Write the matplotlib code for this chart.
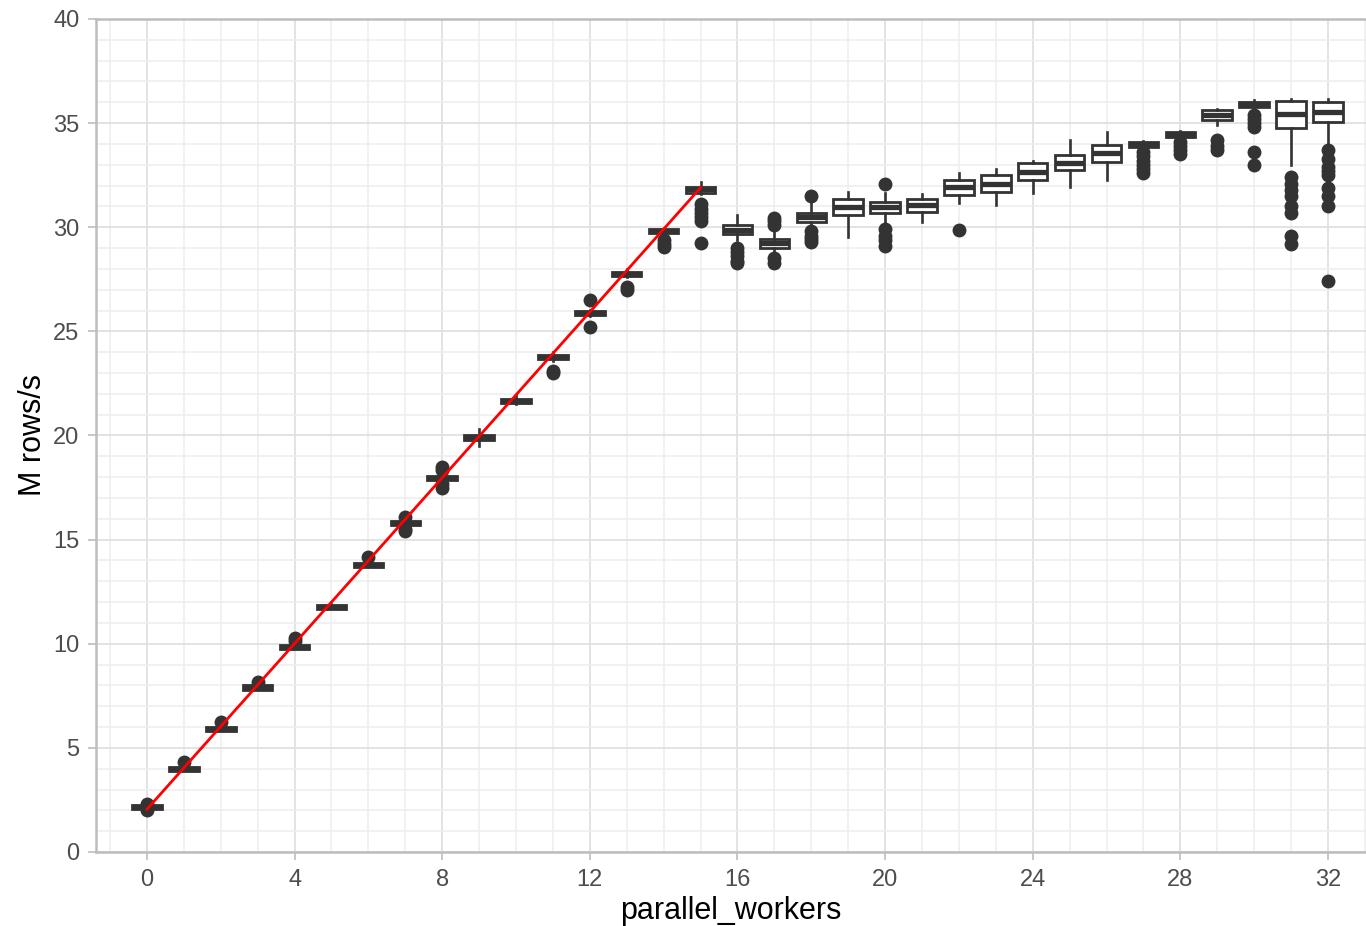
import matplotlib.pyplot as plt
from matplotlib.ticker import MultipleLocator

# throughput (M rows/s) per number of parallel workers
workers = list(range(33))
med = [2.15, 4.0, 5.9, 7.9, 9.85, 11.75, 13.8, 15.8, 17.97, 19.9, 21.67,
       23.75, 25.87, 27.76, 29.82, 31.82, 29.87, 29.23, 30.51, 30.99, 30.99,
       31.07, 31.95, 32.1, 32.67, 33.07, 33.55, 34.0, 34.45, 35.39, 35.9,
       35.46, 35.55]
q1 = [2.07, 3.9, 5.8, 7.8, 9.75, 11.65, 13.7, 15.7, 17.87, 19.8, 21.57,
      23.65, 25.77, 27.66, 29.72, 31.65, 29.67, 29.0, 30.27, 30.59, 30.67,
      30.75, 31.55, 31.7, 32.27, 32.75, 33.15, 33.85, 34.33, 35.15, 35.78,
      34.75, 35.07]
q3 = [2.25, 4.1, 6.0, 8.0, 9.95, 11.85, 13.9, 15.9, 18.07, 20.0, 21.77,
      23.85, 25.97, 27.86, 29.92, 31.95, 30.1, 29.43, 30.7, 31.38, 31.23,
      31.38, 32.27, 32.5, 33.07, 33.47, 33.95, 34.1, 34.55, 35.63, 36.03,
      36.07, 36.03]
wlo = [2.05, 3.9, 5.8, 7.8, 9.75, 11.65, 13.7, 15.6, 17.85, 19.5, 21.5,
       23.6, 25.75, 27.6, 29.6, 31.6, 29.39, 28.8, 30.1, 29.51, 30.27,
       30.27, 31.15, 31.07, 31.63, 31.95, 32.27, 33.8, 34.3, 34.91, 35.7,
       32.99, 33.95]
whi = [2.3, 4.2, 6.1, 8.1, 10.0, 11.9, 14.0, 16.0, 18.15, 20.3, 21.95,
       24.0, 26.05, 28.0, 29.95, 32.15, 30.6, 29.8, 31.2, 31.7, 31.63,
       31.6, 32.6, 32.8, 33.2, 34.19, 34.59, 34.15, 34.6, 35.7, 36.1,
       36.14, 36.14]
outliers = [
    [2.0, 2.3], [4.3], [6.25], [8.15], [10.3, 10.15], [], [14.15],
    [16.1, 15.4, 15.5], [18.5, 18.35, 17.5, 17.65], [], [], [23.0, 23.1],
    [26.5, 25.2], [27.15, 27.0], [29.4, 29.2, 29.05],
    [31.1, 30.9, 30.7, 30.5, 30.3, 29.25],
    [29.0, 28.8, 28.6, 28.4, 28.3],
    [30.45, 30.3, 30.1, 28.5, 28.3],
    [31.5, 29.8, 29.6, 29.45, 29.3], [],
    [32.1, 29.9, 29.6, 29.4, 29.1], [], [29.87], [], [], [], [],
    [33.6, 33.4, 33.2, 33.0, 32.8, 32.6],
    [34.1, 33.9, 33.7, 33.5],
    [34.2, 33.9, 33.7],
    [35.4, 35.2, 35.0, 34.8, 33.6, 33.0],
    [32.4, 32.1, 31.8, 31.5, 31.0, 30.7, 29.6, 29.2],
    [33.7, 33.3, 32.9, 32.7, 32.5, 31.9, 31.5, 31.0, 27.4],
]

# linear-scaling reference line
line_x = [0, 15]
line_y = [2.05, 31.9]

plt.rcParams['font.family'] = ['Liberation Sans', 'DejaVu Sans']

fig = plt.figure(figsize=(13.66, 9.26), dpi=100)
ax = fig.add_axes([96 / 1366, 74 / 926, 1270 / 1366, 833 / 926])

stats = []
for i in range(len(workers)):
    stats.append(dict(med=med[i], q1=q1[i], q3=q3[i], whislo=wlo[i],
                      whishi=whi[i], fliers=outliers[i]))

dark = "#333333"
ax.bxp(stats, positions=workers, widths=0.8, showcaps=False,
       patch_artist=True,
       boxprops=dict(facecolor="white", edgecolor=dark, linewidth=2.0),
       whiskerprops=dict(color=dark, linewidth=1.9),
       medianprops=dict(color=dark, linewidth=3.8),
       flierprops=dict(marker="o", markerfacecolor=dark, markeredgecolor=dark,
                       markersize=9),
       zorder=3)

ax.plot(line_x, line_y, color="red", linewidth=2.0, zorder=5)

ax.set_xlim(-1.38, 33.03)
ax.set_ylim(0, 40)
ax.xaxis.set_major_locator(MultipleLocator(4))
ax.xaxis.set_minor_locator(MultipleLocator(1))
ax.yaxis.set_major_locator(MultipleLocator(5))
ax.yaxis.set_minor_locator(MultipleLocator(1))
ax.set_xticklabels([str(int(t)) for t in ax.get_xticks()])

ax.grid(which="major", color="#e0e0e0", linewidth=1.3, zorder=0)
ax.grid(which="minor", color="#eeeeee", linewidth=1.1, zorder=0)
ax.set_axisbelow(True)

for side in ["left", "bottom", "top"]:
    ax.spines[side].set_color("#bdbdbd")
    ax.spines[side].set_linewidth(1.8)
ax.spines["right"].set_visible(False)

ax.tick_params(which="major", length=6, width=1.2, color="#bdbdbd",
               labelsize=17, labelcolor="#4d4d4d", pad=6)
ax.tick_params(which="minor", length=0)
ax.tick_params(axis="x", top=False)

ax.set_xlabel("parallel_workers", fontsize=22, labelpad=4)
ax.set_ylabel("M rows/s", fontsize=22, labelpad=3.5)

plt.savefig("out.png", dpi=100)
plt.close()
